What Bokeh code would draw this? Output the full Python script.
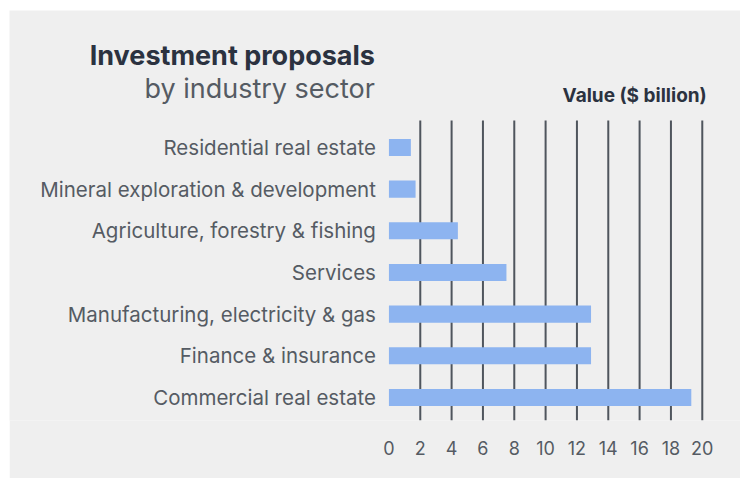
from bokeh.plotting import figure
from bokeh.models import Range1d, FixedTicker, ColumnDataSource
from bokeh.core.properties import value
from bokeh.embed import file_html
from bokeh.resources import INLINE

# Data (top to bottom as shown)
categories = [
    "Residential real estate",
    "Mineral exploration & development",
    "Agriculture, forestry & fishing",
    "Services",
    "Manufacturing, electricity & gas",
    "Finance & insurance",
    "Commercial real estate",
]
values = [1.4, 1.7, 4.4, 7.5, 12.9, 12.9, 19.3]
x_ticks = [0, 2, 4, 6, 8, 10, 12, 14, 16, 18, 20]
grid_ticks = [2, 4, 6, 8, 10, 12, 14, 16, 18, 20]

title_main = "Investment proposals"
title_sub = "by industry sector"
axis_title = "Value ($ billion)"

FONT = "Inter"
BG = "#efefef"
BAR = "#8db4f0"
GRID = "#4f555d"
LABEL = "#555b63"
DARK = "#2b3240"

n = len(categories)
ypos = [n - 1 - i for i in range(n)]
src = ColumnDataSource(dict(y=ypos, v=values, cat=categories))

y_lo, y_grid_top, y_hi = -0.552, n - 1 + 0.648, 9.287

p = figure(
    width=731, height=468,
    x_range=Range1d(-24.22, 22.44), y_range=Range1d(y_lo, y_hi),
    output_backend="svg", toolbar_location=None, y_axis_location=None,
    min_border_left=0, min_border_right=0, min_border_top=0, min_border_bottom=58,
)
p.margin = (10, 0, 0, 9)
p.background_fill_color = BG
p.border_fill_color = BG
p.outline_line_color = None
p.grid.visible = False

# gridlines
p.segment(x0=grid_ticks, y0=[y_lo] * len(grid_ticks), x1=grid_ticks,
          y1=[y_grid_top] * len(grid_ticks), line_color=GRID, line_width=2)

# bars
p.hbar(y="y", right="v", left=0, height=0.41, source=src, fill_color=BAR, line_color=None)

# category labels
p.text(x=0, y="y", text="cat", source=src, x_offset=-13, text_align="right",
       text_baseline="middle", text_font=value(FONT), text_font_size="20.5px", text_color=LABEL)

# titles
top = max(ypos)
p.text(x=[0], y=[top], text=[title_main], x_offset=-14, y_offset=-92,
       text_align="right", text_baseline="middle", text_font=value(FONT),
       text_font_size="27px", text_font_style="bold", text_color=DARK)
p.text(x=[0], y=[top], text=[title_sub], x_offset=-14, y_offset=-59,
       text_align="right", text_baseline="middle", text_font=value(FONT),
       text_font_size="27px", text_color=LABEL)
p.text(x=[max(x_ticks)], y=[top], text=[axis_title], x_offset=4.5, y_offset=-51.5,
       text_align="right", text_baseline="middle", text_font=value(FONT),
       text_font_size="19px", text_font_style="bold", text_color=DARK)

# x axis
xa = p.xaxis[0]
xa.ticker = FixedTicker(ticks=x_ticks)
xa.axis_line_color = None
xa.major_tick_line_color = None
xa.minor_tick_line_color = None
xa.major_tick_out = 0
xa.major_tick_in = 0
xa.major_label_standoff = 20
xa.major_label_text_font = FONT
xa.major_label_text_font_size = "18px"
xa.major_label_text_color = LABEL

open("out.html", "w").write(file_html(p, INLINE))
